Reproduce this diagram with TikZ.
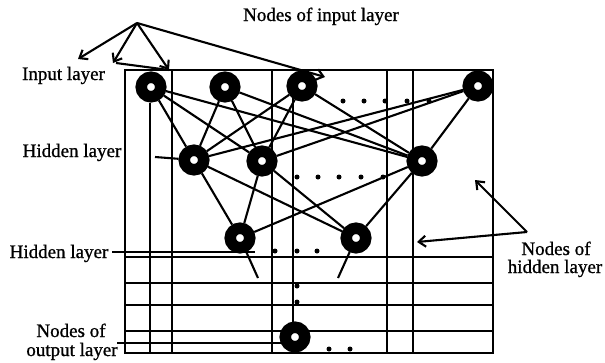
\documentclass[tikz,border=0pt]{standalone}
\usepackage{fontspec}
\setmainfont{Liberation Serif}
\newfontfamily\lblfont{Liberation Serif}[FakeBold=0.9]
\usetikzlibrary{arrows.meta}
\begin{document}
\begin{tikzpicture}[x=1pt,y=-1pt,
  ring/.style={circle, draw=black, fill=white, line width=11.5pt, minimum size=19.5pt, inner sep=0pt},
  conn/.style={line width=2.1pt},
  gridln/.style={line width=2.3pt},
  lbl/.style={font=\lblfont\fontsize{19}{22}\selectfont, inner sep=0pt, anchor=base},
  arr/.style={line width=2.1pt, -{Straight Barb[length=7pt,width=11pt,line width=2.1pt]}},
  dotm/.style={circle, fill=black, inner sep=0pt, minimum size=5pt}]
\useasboundingbox (0,0) rectangle (605,362);

% grid / box
\draw[gridln] (125,70) rectangle (493,353);
\foreach \x in {172,272,387,413} \draw[gridln] (\x,70) -- (\x,353);
\draw[gridln] (150,103) -- (150,353);
\draw[gridln] (293,97) -- (293,322);
\foreach \y in {257,283,305,331} \draw[gridln] (125,\y) -- (493,\y);
\draw[gridln] (112,252) -- (255,252);
\draw[gridln] (117,343) -- (282,343);

% nodes
\node[ring] (I1) at (151,87) {};
\node[ring] (I2) at (225,87) {};
\node[ring] (I3) at (302,86) {};
\node[ring] (I4) at (478,86) {};
\node[ring] (H1) at (194,160) {};
\node[ring] (H2) at (262,161) {};
\node[ring] (H3) at (422,161) {};
\node[ring] (G1) at (240,238) {};
\node[ring] (G2) at (356,238) {};
\node[ring] (O) at (295,337) {};

% dots
\foreach \x [count=\i] in {343,364,385,407,429} \node[dotm] (di\i) at (\x,101) {};
\foreach \x [count=\i] in {297,318,339,361,383} \node[dotm] (dh\i) at (\x,177) {};
\foreach \x [count=\i] in {275,297,317} \node[dotm] (dg\i) at (\x,251) {};
\node[dotm] (dv1) at (297,286) {};
\node[dotm] (dv2) at (297,302) {};
\node[dotm] (do1) at (329,349) {};
\node[dotm] (do2) at (350,349) {};

% connections
\foreach \a in {I1,I2,I3,I4} \foreach \b in {H1,H2,H3} \draw[conn] (\a) -- (\b);
\foreach \a in {H1,H2,H3} \foreach \b in {G1,G2} \draw[conn] (\a) -- (\b);
\coordinate (g1t) at (258,278);
\coordinate (g2t) at (338,278);
\draw[conn] (G1) -- (g1t);
\draw[conn] (G2) -- (g2t);
\coordinate (hs) at (155,157);
\draw[conn] (hs) -- (H1);

% labels
\node[lbl] (t1) at (321,21) {Nodes of input layer};
\node[lbl] (t2) at (63.5,80) {Input layer};
\node[lbl] (t3) at (72,157) {Hidden layer};
\node[lbl] (t4) at (59,258) {Hidden layer};
\node[lbl] (t5) at (71,337) {Nodes of};
\node[lbl] (t6) at (72,356) {output layer};
\node[lbl] (t7) at (556,255) {Nodes of};
\node[lbl] (t8) at (555,273) {hidden layer};

% arrows
\coordinate (apex) at (137,23);
\coordinate (a1) at (78,59);
\coordinate (a2) at (113,63);
\coordinate (a3) at (169,70);
\coordinate (a4) at (325,77);
\foreach \t in {a1,a2,a3,a4} \draw[arr] (apex) -- (\t);
\coordinate (il) at (116,63);
\draw[conn] (il) -- (a3);
\coordinate (apex2) at (527,232);
\coordinate (b1) at (475,180);
\coordinate (b2) at (417,242);
\draw[arr] (apex2) -- (b1);
\draw[arr] (apex2) -- (b2);
\end{tikzpicture}
\end{document}
